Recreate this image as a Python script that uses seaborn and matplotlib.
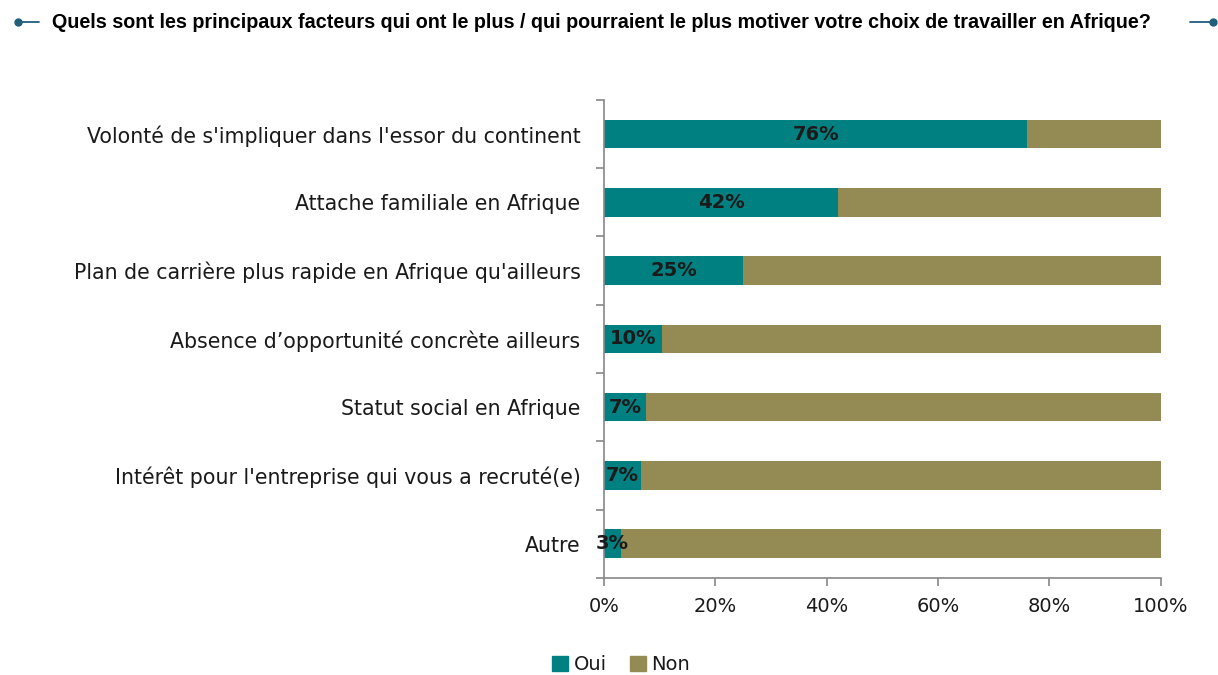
import matplotlib
matplotlib.use('Agg')
import pandas as pd
import matplotlib.pyplot as plt
import seaborn as sns
from matplotlib.lines import Line2D
from matplotlib.patches import Patch

# Données
facteurs = [
    "Volonté de s'impliquer dans l'essor du continent",
    "Attache familiale en Afrique",
    "Plan de carrière plus rapide en Afrique qu'ailleurs",
    "Absence d’opportunité concrète ailleurs",
    "Statut social en Afrique",
    "Intérêt pour l'entreprise qui vous a recruté(e)",
    "Autre",
]
oui = [76, 42, 25, 10.4, 7.6, 6.6, 3]
etiquettes = ["76%", "42%", "25%", "10%", "7%", "7%", "3%"]
total = [100] * len(facteurs)

teal = '#008080'
olive = '#948A54'

df = pd.DataFrame({'facteur': facteurs, 'oui': oui, 'total': total})

sns.set_style('white')
plt.rcParams['font.family'] = ['DejaVu Sans']

fig = plt.figure(figsize=(12.18, 6.75), dpi=100)
ax = fig.add_axes([0.496, 0.144, 0.457, 0.708])

# Non = fond à 100%, Oui par-dessus
sns.barplot(data=df, x='total', y='facteur', color=olive, width=0.42,
            orient='h', ax=ax, saturation=1, linewidth=0)
sns.barplot(data=df, x='oui', y='facteur', color=teal, width=0.42,
            orient='h', ax=ax, saturation=1, linewidth=0)

for i, (v, lab) in enumerate(zip(oui, etiquettes)):
    ax.text(v / 2 if v > 6 else 1.5, i, lab, ha='center', va='center',
            fontsize=14, fontweight='bold', color='#1a1a1a')

ax.set_xlim(0, 100)
ax.set_ylim(len(facteurs) - 0.5, -0.5)
ax.set_xticks([0, 20, 40, 60, 80, 100])
ax.set_xticklabels([f"{t}%" for t in range(0, 101, 20)], fontsize=14)
ax.set_yticks(range(len(facteurs)))
ax.set_yticklabels(facteurs, fontsize=14.8, color='#1a1a1a')
ax.set_xlabel('')
ax.set_ylabel('')

# ticks style Excel
ax.set_yticks([i + 0.5 for i in range(-1, len(facteurs))], minor=True)
ax.tick_params(axis='y', which='major', left=False, length=0, pad=17)
ax.tick_params(axis='y', which='minor', left=True, length=6, width=1.2,
               color='#888888', direction='out')
ax.tick_params(axis='x', bottom=True, length=6, width=1.2, color='#888888',
               direction='out', pad=8, labelcolor='#1a1a1a')

for s in ['top', 'right']:
    ax.spines[s].set_visible(False)
for s in ['left', 'bottom']:
    ax.spines[s].set_color('#888888')
    ax.spines[s].set_linewidth(1.2)

# Titre
fig.text(0.043, 0.967, "Quels sont les principaux facteurs qui ont le plus / qui pourraient le plus motiver votre choix de travailler en Afrique?",
         fontsize=14.2, fontweight='bold', family='Liberation Sans', va='center', ha='left',
         color='black')
fig.add_artist(Line2D([0.015, 0.032], [0.967, 0.967], color='#1F5F7A', lw=1.3))
fig.add_artist(Line2D([0.015], [0.967], marker='o', color='#1F5F7A', markersize=5))
fig.add_artist(Line2D([0.977, 0.998], [0.967, 0.967], color='#1F5F7A', lw=1.3))
fig.add_artist(Line2D([0.996], [0.967], marker='o', color='#1F5F7A', markersize=5))

# Légende
handles = [Patch(color=teal, label='Oui'), Patch(color=olive, label='Non')]
fig.legend(handles=handles, loc='center', bbox_to_anchor=(0.51, 0.015), ncol=2,
           frameon=False, fontsize=14, handlelength=0.8, handleheight=0.8,
           handletextpad=0.3, columnspacing=1.2, labelcolor='#1a1a1a')

fig.savefig('out.png', dpi=100)
